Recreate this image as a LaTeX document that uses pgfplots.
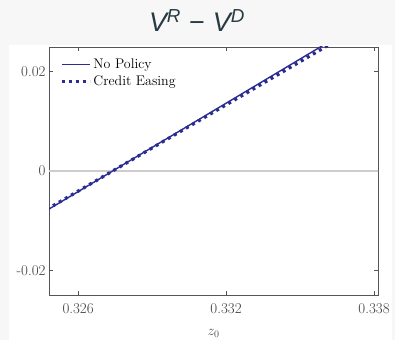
\documentclass[border=0pt]{standalone}
\usepackage{pgfplots}
\pgfplotsset{compat=1.18}
\usepackage{fontspec}
\newfontfamily\titlefont{Liberation Sans}
\definecolor{bg}{RGB}{247,247,247}
\definecolor{lineblue}{RGB}{42,44,145}
\definecolor{titlecol}{RGB}{40,58,66}
\definecolor{axiscol}{RGB}{85,85,85}
\definecolor{zerocol}{RGB}{205,205,205}
\begin{document}
\begin{tikzpicture}[x=1bp,y=1bp]
\fill[bg] (0,0) rectangle (395,340);
\fill[white] (9,0) rectangle (392,295);
\node[titlecol, anchor=base, font=\titlefont\fontsize{27}{32}\selectfont] at (197,308) {\itshape V\textsuperscript{R}\hspace{0.3em}{\upshape −}\hspace{0.3em}V\textsuperscript{D}};
\begin{axis}[at={(49bp,45bp)}, anchor=south west, scale only axis,
 width=329bp, height=248bp,
 xmin=0.32482, xmax=0.33816, ymin=-0.025, ymax=0.025,
 scaled ticks=false,
 xtick={0.326,0.332,0.338}, xticklabels={0.326,0.332,0.338},
 ytick={-0.02,0,0.02}, yticklabels={-0.02,0,0.02},
 tick align=inside, major tick length=4bp, tick pos=both,
 axis line style={axiscol, line width=0.8bp},
 tick style={axiscol, line width=0.8bp},
 tick label style={font=\fontsize{15}{18}\selectfont, text=black!75},
 xticklabel style={yshift=-5bp},
 xlabel={$z_0$}, xlabel style={font=\fontsize{14}{16}\selectfont, text=black!70, yshift=-9bp},
 legend style={draw=none, fill=none, at={(0.03,0.965)}, anchor=north west,
   font=\fontsize{14}{16}\selectfont, row sep=2bp, inner sep=1bp},
 legend cell align=left,
 legend image code/.code={\draw[#1] (0bp,0bp) -- (28bp,0bp);},
]
\addlegendimage{lineblue, line width=1.4bp}
\addlegendentry{No Policy}
\addlegendimage{lineblue, line width=3.4bp, dash pattern=on 3bp off 4bp}
\addlegendentry{Credit Easing}
\addplot[zerocol, line width=1.6bp, forget plot] coordinates {(0.3240,0) (0.3390,0)};
\addplot[lineblue, line width=1.4bp, forget plot] coordinates {
(0.324,-0.01010) (0.326,-0.00416) (0.328,0.00178) (0.330,0.00772)
(0.332,0.01366) (0.334,0.01960) (0.336,0.02554) (0.337,0.02851)};
\addplot[lineblue, line width=3.2bp, dash pattern=on 3bp off 4bp, forget plot] coordinates {
(0.324,-0.00986) (0.326,-0.00406) (0.328,0.00174) (0.330,0.00754)
(0.332,0.01334) (0.334,0.01914) (0.336,0.02494) (0.337,0.02784)};
\end{axis}
\end{tikzpicture}
\end{document}
